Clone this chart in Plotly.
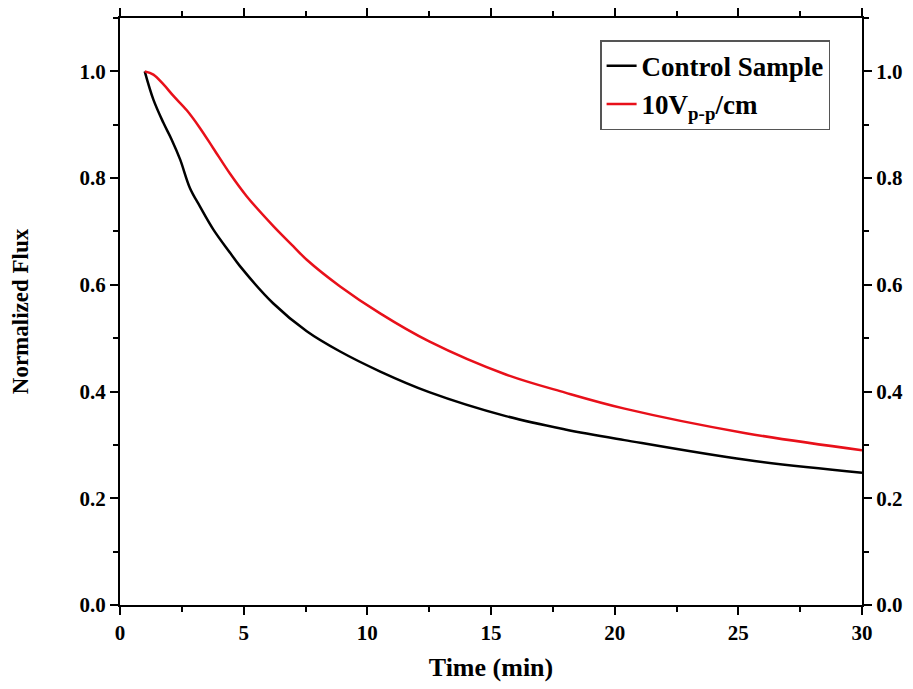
import plotly.graph_objects as go

time_control = [1.0, 1.35, 1.75, 2.09, 2.43, 2.83, 3.23, 3.77, 4.45, 4.85, 6.2, 7.55, 8.9, 10.5, 12.5, 15.6, 18.0, 20.4, 25.3, 30.0]
flux_control = [1.0, 0.947, 0.904, 0.872, 0.835, 0.781, 0.747, 0.704, 0.660, 0.635, 0.565, 0.513, 0.475, 0.438, 0.399, 0.354, 0.329, 0.309, 0.272, 0.248]

time_field = [1.0, 1.35, 1.75, 2.16, 2.7, 3.23, 3.77, 4.45, 5.12, 6.2, 7.01, 7.55, 8.9, 10.5, 12.5, 15.6, 18.0, 20.4, 25.3, 30.0]
flux_field = [1.0, 0.994, 0.976, 0.954, 0.927, 0.894, 0.856, 0.808, 0.766, 0.710, 0.672, 0.647, 0.597, 0.547, 0.494, 0.432, 0.398, 0.368, 0.322, 0.290]

x_ticks = [0, 5, 10, 15, 20, 25, 30]
y_ticks = [0.0, 0.2, 0.4, 0.6, 0.8, 1.0]
y_tick_labels = ["0.0", "0.2", "0.4", "0.6", "0.8", "1.0"]

FONT = "Liberation Serif"

fig = go.Figure()
fig.add_trace(go.Scatter(x=time_control, y=flux_control, mode="lines", name="<b>Control Sample</b>",
                         line=dict(color="black", width=2.5, shape="spline", smoothing=1.0)))
fig.add_trace(go.Scatter(x=time_field, y=flux_field, mode="lines", name="<b>10V<sub>p-p</sub>/cm</b>",
                         yaxis="y2",
                         line=dict(color="#e8101a", width=2.5, shape="spline", smoothing=1.0)))

axis_common = dict(showline=True, linecolor="black", linewidth=2, ticks="outside", ticklen=8,
                   tickwidth=2, tickcolor="black", showgrid=False, zeroline=False,
                   tickfont=dict(family=FONT, size=21, color="black", weight="bold"))
minor_y = dict(dtick=0.1, tick0=0, ticks="outside", ticklen=5, tickwidth=2, tickcolor="black")

fig.update_layout(
    width=905, height=681,
    margin=dict(l=112, r=51, t=10, b=84, autoexpand=False),
    paper_bgcolor="white", plot_bgcolor="white",
    font=dict(family=FONT, color="black"),
    xaxis=dict(range=[0, 30], tickvals=x_ticks, mirror="ticks",
               minor=dict(dtick=2.5, tick0=0, ticks="outside", ticklen=5, tickwidth=2, tickcolor="black"),
               title=dict(text="<b>Time (min)</b>", font=dict(family=FONT, size=26), standoff=14),
               **axis_common),
    yaxis=dict(range=[0, 1.1], tickvals=y_ticks, ticktext=y_tick_labels, minor=minor_y,
               title=dict(text="<b>Normalized Flux</b>", font=dict(family=FONT, size=23), standoff=44),
               **axis_common),
    yaxis2=dict(range=[0, 1.1], tickvals=y_ticks, ticktext=y_tick_labels, overlaying="y", side="right",
                minor=minor_y, **axis_common),
    legend=dict(x=0.957, y=0.962, xanchor="right", yanchor="top", bgcolor="white",
                bordercolor="#555555", borderwidth=1.5,
                font=dict(family=FONT, size=27, color="black"), tracegroupgap=0),
)

fig.write_html("out.html")
